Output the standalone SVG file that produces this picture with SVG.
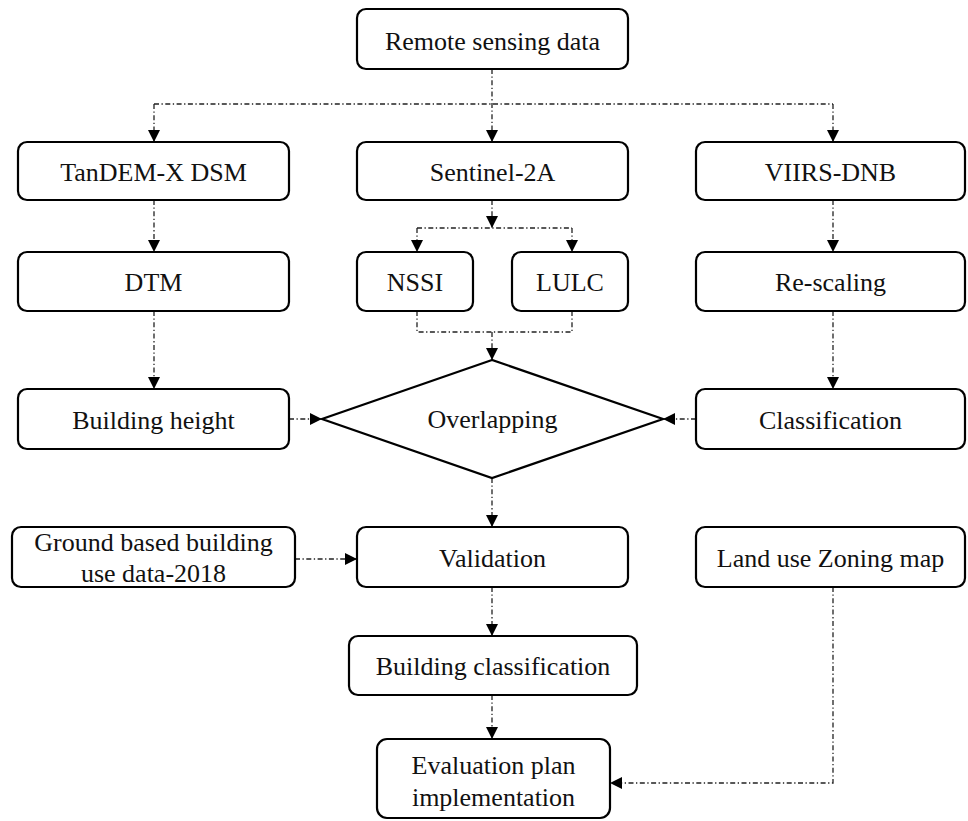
<svg xmlns="http://www.w3.org/2000/svg" width="968" height="821" viewBox="0 0 968 821">
<defs>
<marker id="ah" markerUnits="userSpaceOnUse" markerWidth="12" markerHeight="12" refX="12" refY="6" orient="auto" viewBox="0 0 12 12">
<path d="M0,0 L12,6 L0,12 z" fill="#000"/>
</marker>
</defs>
<style>
.box{fill:#fff;stroke:#000;stroke-width:2.2}
.t{font-family:"Liberation Serif","Times New Roman",serif;font-size:26px;fill:#111;text-anchor:middle}
.c{fill:none;stroke:#222;stroke-width:1.3;stroke-dasharray:5 2.5 1.3 2.5}
.a{marker-end:url(#ah)}
</style>
<rect width="968" height="821" fill="#fff"/>
<g id="connectors">
<path class="c a" d="M492,69 V142"/>
<path class="c" d="M154,104 H833"/>
<path class="c a" d="M154,104 V142"/>
<path class="c a" d="M833,104 V142"/>
<path class="c a" d="M154,200 V252"/>
<path class="c a" d="M492,200 V228"/>
<path class="c" d="M417,228 H572"/>
<path class="c a" d="M417,228 V252"/>
<path class="c a" d="M572,228 V252"/>
<path class="c a" d="M833,200 V252"/>
<path class="c" d="M417,311 V332 H572 V311"/>
<path class="c a" d="M492,332 V360"/>
<path class="c a" d="M154,311 V389"/>
<path class="c a" d="M833,311 V389"/>
<path class="c a" d="M289,419 H322"/>
<path class="c a" d="M696,419 H663"/>
<path class="c a" d="M492,478 V527"/>
<path class="c a" d="M295,559 H357"/>
<path class="c a" d="M492,587 V636"/>
<path class="c a" d="M492,695 V739"/>
<path class="c a" d="M833,587 V783 H610"/>
</g>
<g id="remote"><rect class="box" x="357" y="9" width="271" height="60" rx="9"/><text class="t" x="492.5" y="50">Remote sensing data</text></g>
<g id="tandem"><rect class="box" x="18" y="142" width="271" height="58" rx="9"/><text class="t" x="153.5" y="181">TanDEM-X DSM</text></g>
<g id="sentinel"><rect class="box" x="357" y="142" width="271" height="58" rx="9"/><text class="t" x="492.5" y="181">Sentinel-2A</text></g>
<g id="viirs"><rect class="box" x="696" y="142" width="269" height="58" rx="9"/><text class="t" x="830.5" y="181">VIIRS-DNB</text></g>
<g id="dtm"><rect class="box" x="18" y="252" width="271" height="59" rx="9"/><text class="t" x="153.5" y="291">DTM</text></g>
<g id="nssi"><rect class="box" x="357" y="252" width="116" height="59" rx="9"/><text class="t" x="415" y="291">NSSI</text></g>
<g id="lulc"><rect class="box" x="512" y="252" width="116" height="59" rx="9"/><text class="t" x="570" y="291">LULC</text></g>
<g id="rescaling"><rect class="box" x="696" y="252" width="269" height="59" rx="9"/><text class="t" x="830.5" y="291">Re-scaling</text></g>
<g id="bheight"><rect class="box" x="18" y="389" width="271" height="60" rx="9"/><text class="t" x="153.5" y="429">Building height</text></g>
<g id="overlap"><path class="box" d="M492,360 L322,419 L492,478 L663,419 Z" stroke-width="2.6" stroke-linejoin="miter"/><text class="t" x="492.5" y="428">Overlapping</text></g>
<g id="classification"><rect class="box" x="696" y="389" width="269" height="60" rx="9"/><text class="t" x="830.5" y="429">Classification</text></g>
<g id="ground"><rect class="box" x="12" y="527" width="283" height="60" rx="9"/><text class="t" x="153.5" y="551">Ground based building</text><text class="t" x="153.5" y="582">use data-2018</text></g>
<g id="validation"><rect class="box" x="357" y="527" width="271" height="60" rx="9"/><text class="t" x="492.5" y="567">Validation</text></g>
<g id="landuse"><rect class="box" x="696" y="527" width="269" height="60" rx="9"/><text class="t" x="830.5" y="567">Land use Zoning map</text></g>
<g id="bclass"><rect class="box" x="349" y="636" width="288" height="59" rx="9"/><text class="t" x="493" y="675">Building classification</text></g>
<g id="evaluation"><rect class="box" x="377" y="739" width="233" height="79" rx="10"/><text class="t" x="493.5" y="774">Evaluation plan</text><text class="t" x="493.5" y="806">implementation</text></g>
</svg>
